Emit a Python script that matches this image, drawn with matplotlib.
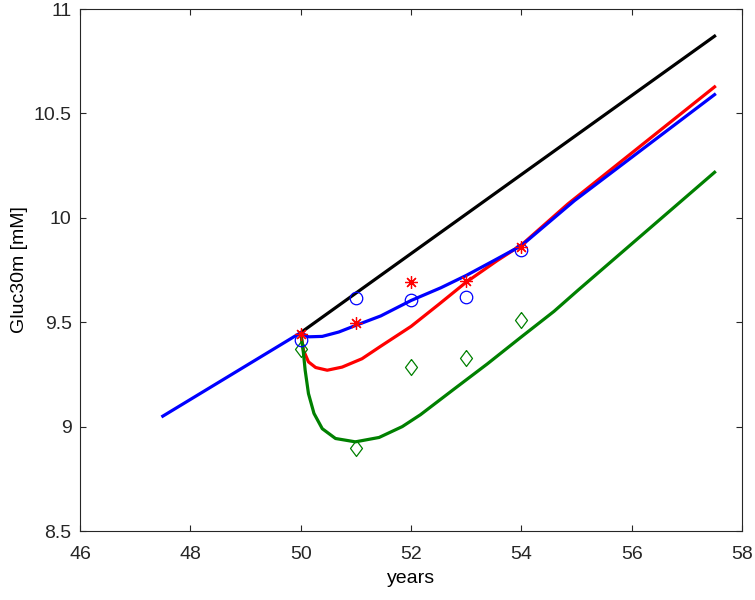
import matplotlib.pyplot as plt

plt.rcParams['font.family'] = ['Liberation Sans', 'DejaVu Sans']

# model curves (years, Gluc30m)
black_x = [50.0, 57.5]
black_y = [9.45, 10.87]

blue_x = [47.5, 50.0, 50.14, 50.39, 50.69, 51.0, 51.45, 52.0, 52.54, 53.0, 53.5,
          54.0, 54.96, 57.5]
blue_y = [9.05, 9.45, 9.43, 9.432, 9.453, 9.485, 9.53, 9.604, 9.665, 9.724, 9.795,
          9.867, 10.082, 10.59]

red_x = [50.0, 50.05, 50.14, 50.27, 50.48, 50.75, 51.11, 51.45, 52.0, 52.5, 53.0,
         53.56, 54.0, 54.84, 57.5]
red_y = [9.45, 9.365, 9.31, 9.283, 9.27, 9.285, 9.325, 9.385, 9.48, 9.585, 9.692,
         9.795, 9.87, 10.066, 10.627]

green_x = [50.0, 50.05, 50.08, 50.14, 50.24, 50.39, 50.63, 50.99, 51.42, 51.84, 52.17,
           52.78, 53.38, 53.99, 54.59, 55.02, 57.5]
green_y = [9.45, 9.35, 9.27, 9.158, 9.063, 8.99, 8.943, 8.927, 8.948, 9.0, 9.057,
           9.18, 9.30, 9.428, 9.552, 9.652, 10.218]

# observed data
obs_years = [50, 51, 52, 53, 54]
obs_circle = [9.413, 9.618, 9.604, 9.623, 9.845]
obs_star = [9.445, 9.494, 9.692, 9.697, 9.862]
obs_diamond = [9.373, 8.897, 9.284, 9.327, 9.511]

green = (0, 0.5, 0)

fig = plt.figure(figsize=(7.55, 6.0), dpi=100)
ax = fig.add_axes([0.106, 0.115, 0.877, 0.87])

ax.plot(black_x, black_y, color='black', lw=2.3)
ax.plot(red_x, red_y, color='red', lw=2.3)
ax.plot(green_x, green_y, color=green, lw=2.3)
ax.plot(blue_x, blue_y, color='blue', lw=2.3)

diamond = [(0, 1), (0.75, 0), (0, -1), (-0.75, 0), (0, 1)]
ax.plot(obs_years, obs_diamond, linestyle='none', marker=diamond, ms=11.5,
        mfc='none', mec=green, mew=0.9)
ax.plot(obs_years, obs_circle, linestyle='none', marker='o', ms=9,
        mfc='none', mec='blue', mew=0.9)
ax.plot(obs_years, obs_star, linestyle='none', marker=(8, 2, 0), ms=9,
        mec='red', mew=0.9)

ax.set_xlim(46, 58)
ax.set_ylim(8.5, 11)
ax.set_xticks([46, 48, 50, 52, 54, 56, 58])
ax.set_yticks([8.5, 9, 9.5, 10, 10.5, 11])
ax.set_yticklabels(['8.5', '9', '9.5', '10', '10.5', '11'])
ax.tick_params(direction='in', length=4.5, width=0.8, labelsize=14,
               top=True, right=True, colors='#262626')
ax.tick_params(axis='x', pad=11)
ax.tick_params(axis='y', pad=6)
for s in ax.spines.values():
    s.set_color('#262626')
    s.set_linewidth(0.8)

ax.set_xlabel('years', fontsize=14, labelpad=5)
ax.set_ylabel('Gluc30m [mM]', fontsize=14, labelpad=4)

fig.savefig('out.png', dpi=100)
